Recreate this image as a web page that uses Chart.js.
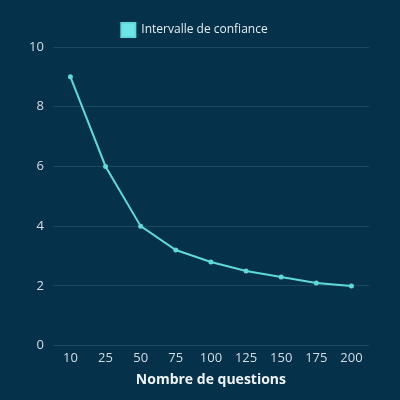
<!DOCTYPE html>
<html>
<head>
<meta charset="utf-8">
<script src="https://cdn.jsdelivr.net/npm/chart.js@4"></script>
<style>
  html, body { margin: 0; padding: 0; background: #05314b; }
  #wrap { width: 400px; height: 400px; }
</style>
</head>
<body>
<div id="wrap"><canvas id="chart"></canvas></div>
<script>
const questions = ["10", "25", "50", "75", "100", "125", "150", "175", "200"];
const confidence = [9, 6, 4, 3.2, 2.8, 2.5, 2.3, 2.1, 2.0];
const yTicks = [0, 2, 4, 6, 8, 10];

document.addEventListener("DOMContentLoaded", () => {
  Chart.defaults.font.family = "'Open Sans', 'Noto Sans', sans-serif";
  const ctx = document.getElementById("chart").getContext("2d");
  new Chart(ctx, {
    type: "line",
    data: {
      labels: questions,
      datasets: [
        {
          label: "Intervalle de confiance",
          data: confidence,
          borderColor: "#5fd9db",
          backgroundColor: "#6ee6e8",
          borderWidth: 2,
          pointRadius: 1.5,
          pointBackgroundColor: "#5fd9db",
          tension: 0,
        }
      ],
    },
    options: {
      responsive: true,
      maintainAspectRatio: false,
      animation: false,
      layout: { padding: { left: 20, right: 31, top: 16, bottom: 12 } },
      plugins: {
        legend: {
          labels: { color: "#e6edf2", font: { size: 12 }, boxWidth: 14, boxHeight: 14, padding: 7 },
        },
        tooltip: { enabled: false },
      },
      scales: {
        x: {
          offset: true,
          grid: { display: false, drawTicks: false },
          border: { display: false },
          ticks: { color: "#d4dde4", font: { size: 13 }, padding: 5 },
          title: {
            display: true,
            text: "Nombre de questions",
            color: "#eef3f6",
            font: { size: 14, weight: "bold" },
            padding: { top: 0, bottom: 0 },
          },
        },
        y: {
          min: 0,
          max: 10,
          afterBuildTicks: axis => { axis.ticks = yTicks.map(v => ({ value: v })); },
          grid: { color: "#1c4862", drawTicks: false },
          border: { display: false },
          ticks: { color: "#d4dde4", font: { size: 13 }, padding: 9 },
        },
      },
    },
  });
});
</script>
</body>
</html>
